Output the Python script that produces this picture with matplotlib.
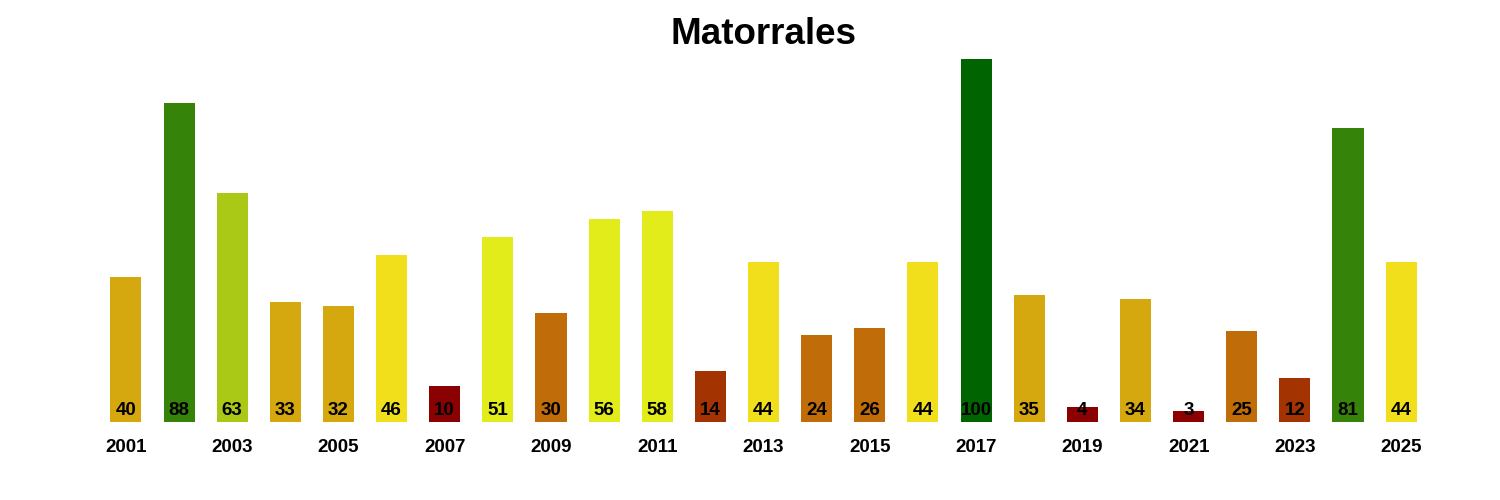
import matplotlib
matplotlib.use("Agg")
import matplotlib.pyplot as plt

# ── Data ──────────────────────────────────────────────────────────────────────
years  = list(range(2001, 2026))
values = [40, 88, 63, 33, 32, 46, 10, 51, 30, 56, 58, 14, 44,
          24, 26, 44, 100, 35, 4, 34, 3, 25, 12, 81, 44]
title  = "Matorrales"

# colour classes (upper bound, colour)
classes = [(10, "#8B0000"), (20, "#A33300"), (31, "#C06C08"), (41, "#D6A810"),
           (50, "#F0DF1A"), (60, "#E1EC1A"), (70, "#AAC816"), (95, "#36830A"),
           (101, "#006400")]

def color_for(v):
    for ub, c in classes:
        if v <= ub:
            return c
    return classes[-1][1]

plt.rcParams["font.family"] = ["Liberation Sans", "DejaVu Sans"]

fig = plt.figure(figsize=(15, 5), dpi=100)
ax = fig.add_axes([0, 0, 1, 1])
ax.set_xlim(-2.37, 25.86)
ax.set_ylim(-21.5, 116.25)
ax.axis("off")

xs = list(range(len(years)))
ax.bar(xs, values, width=0.585, color=[color_for(v) for v in values], linewidth=0)

for x, v in zip(xs, values):
    ax.text(x, 3.05, str(v), ha="center", va="center", fontsize=13.5,
            fontweight="bold", color="black")

for x, y in zip(xs, years):
    if x % 2 == 0:
        ax.text(x, -7.1, str(y), ha="center", va="center", fontsize=13.5,
                fontweight="bold", color="black")

fig.text(0.509, 0.932, title, ha="center", va="center", fontsize=26.5,
         fontweight="bold")

fig.savefig("out.png", dpi=100, facecolor="white")
